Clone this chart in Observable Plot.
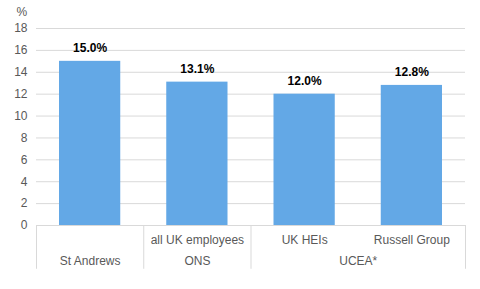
<!DOCTYPE html>
<html>
<head>
<meta charset="utf-8">
<script src="https://cdn.jsdelivr.net/npm/d3@7"></script>
<script src="https://cdn.jsdelivr.net/npm/@observablehq/plot@0.6"></script>
<style>
  html, body { margin: 0; padding: 0; background: #fff; }
  #chart { width: 480px; height: 289px; }
</style>
</head>
<body>
<div id="chart"></div>
<script>
const categories = ["St Andrews", "all UK employees", "UK HEIs", "Russell Group"];
const showCategoryLabel = [false, true, true, true];
const values = [15.0, 13.1, 12.0, 12.8];
const groups = ["St Andrews", "ONS", "UCEA*"];
const groupStart = [0, 1, 2];
const groupEnd = [1, 2, 4];
const yTicks = [0, 2, 4, 6, 8, 10, 12, 14, 16, 18];
const yUnit = "%";

const bars = categories.map((c, i) => ({cat: c, i, value: values[i], show: showCategoryLabel[i]}));
const groupData = groups.map((g, j) => ({group: g, x1: groupStart[j], x2: groupEnd[j]}));
const dividers = [0, ...groupEnd];

const font = "'Liberation Sans', Arial, sans-serif";
const gray = "#595959";

const chart = Plot.plot({
  width: 480,
  height: 289,
  marginTop: 28,
  marginBottom: 64,
  marginLeft: 36,
  marginRight: 15,
  style: {fontFamily: font, fontSize: "12px", color: gray, background: "#fff"},
  x: {type: "linear", domain: [0, categories.length], axis: null},
  y: {domain: [0, 18], ticks: yTicks},
  marks: [
    Plot.gridY(yTicks, {stroke: "#d9d9d9", strokeOpacity: 1}),
    Plot.axisY(yTicks, {tickSize: 0, tickPadding: 9, fill: gray, fontSize: 12, label: null}),
    Plot.text([yUnit], {frameAnchor: "top-left", text: d => d, dx: -20, dy: -21, fill: gray, fontSize: 12, textAnchor: "start", lineAnchor: "top"}),
    Plot.rectY(bars, {x1: "i", x2: d => d.i + 1, y: "value", fill: "#63A8E6", insetLeft: 23, insetRight: 23}),
    Plot.text(bars, {x: d => d.i + 0.5, y: "value", text: d => d.value.toFixed(1) + "%",
      fontWeight: "bold", fontSize: 12, fill: "#000", lineAnchor: "bottom", dy: -9}),
    Plot.ruleX(dividers, {x: d => d, y1: 0, y2: -4, stroke: "#d9d9d9"}),
    Plot.text(bars.filter(d => d.show), {x: d => d.i + 0.5, y: 0, text: "cat", fill: gray, fontSize: 12, dy: 15}),
    Plot.text(groupData, {x: d => (d.x1 + d.x2) / 2, y: 0, text: "group", fill: gray, fontSize: 12, dy: 36})
  ]
});
document.getElementById("chart").appendChild(chart);
</script>
</body>
</html>
